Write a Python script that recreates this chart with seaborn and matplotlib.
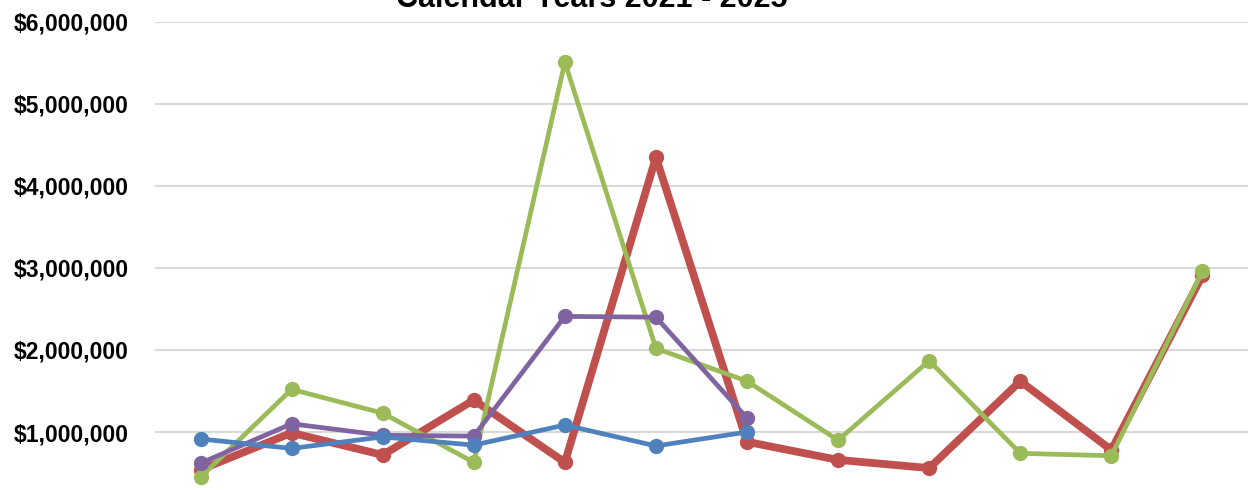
import numpy as np
import pandas as pd
import seaborn as sns
from matplotlib import pyplot as plt, ticker

months = ['Jan', 'Feb', 'Mar', 'Apr', 'May', 'Jun',
          'Jul', 'Aug', 'Sep', 'Oct', 'Nov', 'Dec']

# monthly totals (dollars)
vals_2022 = [540000, 990000, 720000, 1390000, 630000, 4350000,
             880000, 660000, 560000, 1620000, 780000, 2910000]
vals_2023 = [450000, 1520000, 1230000, 630000, 5510000, 2020000,
             1620000, 900000, 1870000, 740000, 710000, 2960000]
vals_2024 = [620000, 1100000, 960000, 950000, 2410000, 2400000, 1170000]
vals_2025 = [915000, 800000, 940000, 840000, 1085000, 830000, 1000000]

series = {'2022': vals_2022, '2023': vals_2023, '2024': vals_2024, '2025': vals_2025}
palette = {'2022': '#C0504D', '2023': '#9BBB59', '2024': '#8064A2', '2025': '#4F81BD'}
widths = {'2022': 5.6, '2023': 3.4, '2024': 3.4, '2025': 3.4}

rows = []
for name, v in series.items():
    for i, val in enumerate(v):
        rows.append({'series': name, 'month': months[i], 'amount': val})
df = pd.DataFrame(rows)

sns.set_style('white')
plt.rcParams['font.family'] = ['Liberation Sans', 'DejaVu Sans']

fig = plt.figure(figsize=(12.48, 4.9), dpi=100)
ax = fig.add_axes([155 / 1248, -24 / 490, 1093 / 1248, 492 / 490])

for name in series:
    sns.lineplot(data=df[df['series'] == name], x='month', y='amount',
                 color=palette[name], lw=widths[name], marker='o',
                 markersize=11, markeredgewidth=0, ax=ax, legend=False,
                 sort=False)

ax.set_xlim(-0.5, 11.5)
ax.set_ylim(0, 6000000)
ax.set_xticks(range(12))
ax.set_xticklabels([])  # month labels sit below the visible area
ax.yaxis.set_major_locator(ticker.MultipleLocator(1000000))
ax.yaxis.set_major_formatter(
    ticker.FuncFormatter(lambda v, p: f'${v:,.0f}' if v > 0 else ''))
for lbl in ax.get_yticklabels():
    lbl.set_fontweight('bold')
ax.tick_params(axis='y', labelsize=16.5, labelcolor='black', length=0, pad=19)
ax.tick_params(axis='x', length=0)
ax.grid(axis='y', color='#D9D9D9', lw=1.5)
ax.set_axisbelow(True)
ax.set_xlabel('')
ax.set_ylabel('')
sns.despine(ax=ax, left=True, bottom=True)

fig.text(592 / 1248, 1 - 7 / 490, 'Calendar Years 2021 - 2025', ha='center',
         va='baseline', fontsize=22, fontweight='bold', color='black')

fig.savefig('out.png', dpi=100)
